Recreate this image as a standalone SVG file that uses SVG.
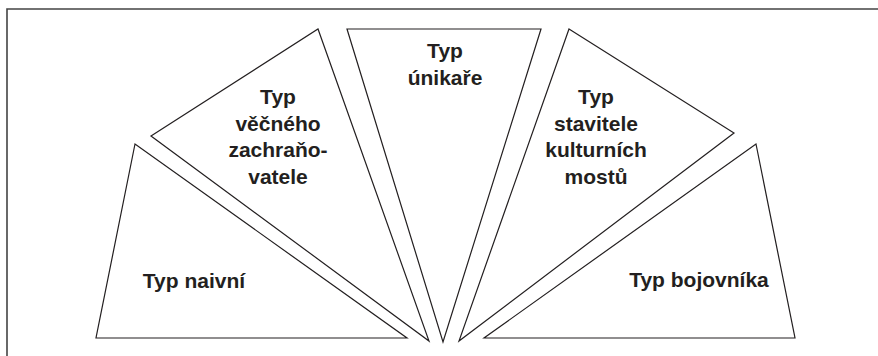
<svg xmlns="http://www.w3.org/2000/svg" width="878" height="356" viewBox="0 0 878 356">
<style>
.frame{fill:none;stroke:#444;stroke-width:1.6}
.tri{fill:#fff;stroke:#231f20;stroke-width:1.2;stroke-linejoin:miter}
.lbl{font-family:"Liberation Sans",Arial,sans-serif;font-weight:bold;font-size:21px;fill:#231f20;text-anchor:middle}
</style>
<rect width="878" height="356" fill="#fff"/>
<path class="frame" d="M7,357 V9 H879"/>
<g id="connectors"></g>
<g id="typ-naivni">
<polygon class="tri" points="135,144 96,338 407,338"/>
<text class="lbl" x="194" y="288">Typ naivní</text>
</g>
<g id="typ-vecneho-zachranovatele">
<polygon class="tri" points="151,136 318,29 429,341"/>
<text class="lbl" x="278" y="104">Typ</text>
<text class="lbl" x="278" y="131">věčného</text>
<text class="lbl" x="278" y="157">zachraňo-</text>
<text class="lbl" x="278" y="184">vatele</text>
</g>
<g id="typ-unikare">
<polygon class="tri" points="347,29 541,29 443,342"/>
<text class="lbl" x="445" y="58">Typ</text>
<text class="lbl" x="445" y="85">únikaře</text>
</g>
<g id="typ-stavitele">
<polygon class="tri" points="569,29 734,133 459,341"/>
<text class="lbl" x="596" y="104">Typ</text>
<text class="lbl" x="596" y="131">stavitele</text>
<text class="lbl" x="596" y="157">kulturních</text>
<text class="lbl" x="596" y="184">mostů</text>
</g>
<g id="typ-bojovnika">
<polygon class="tri" points="756,144 795,338 484,338"/>
<text class="lbl" x="699" y="287">Typ bojovníka</text>
</g>
</svg>
